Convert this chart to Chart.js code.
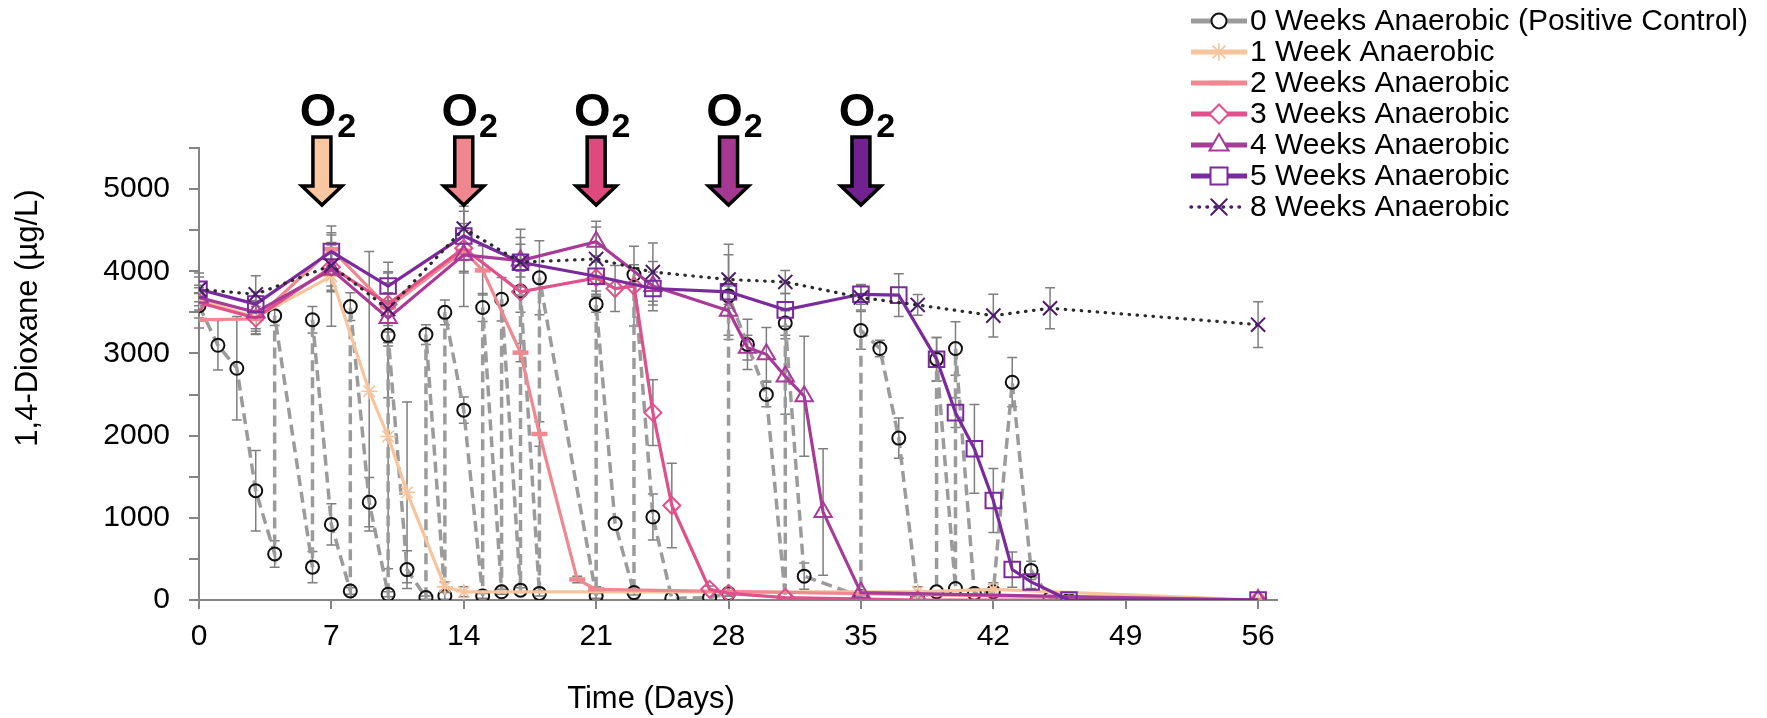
<!DOCTYPE html>
<html>
<head>
<meta charset="utf-8">
<title>1,4-Dioxane</title>
<script src="https://cdn.jsdelivr.net/npm/chart.js"></script>
<style>
    body { margin: 0; background: #fff; }
    #wrap { width: 1767px; height: 718px; }
</style>
</head>
<body>
<div id="wrap"><canvas id="dioxaneChart" width="1767" height="718"></canvas></div>
<script>
// ---- data (days, µg/L, ± error) ----
const xTicks = [0, 7, 14, 21, 28, 35, 42, 49, 56];
const o2Days = [6.5, 14, 21, 28, 35];

// positive control is re-spiked, so some days appear twice (before / after spike)
const pcDays = [0, 1, 2, 3, 4, 4, 6, 6, 7, 8, 8, 9, 10, 10, 11, 12, 12, 13, 13, 14, 15, 15, 16, 16, 17, 17, 18, 18, 21, 21, 22, 23, 23, 24, 25, 27, 28, 28, 29, 30, 31, 31, 32, 35, 35, 36, 37, 38, 39, 39, 40, 40, 41, 42, 43, 44, 45, 46];
const pcVals = [3580, 3100, 2820, 1330, 560, 3460, 400, 3410, 920, 110, 3570, 1190, 70, 3220, 370, 30, 3230, 50, 3500, 2310, 50, 3560, 100, 3660, 120, 3760, 80, 3920, 50, 3600, 930, 90, 3960, 1010, 20, 30, 80, 3700, 3110, 2500, 30, 3370, 290, 40, 3280, 3060, 1970, 30, 100, 2930, 140, 3060, 80, 100, 2650, 360, 20, 0];
const pcErr = [150, 300, 630, 490, 160, 120, 190, 160, 250, 40, 170, 300, 30, 760, 230, 20, 120, 40, 150, 160, 30, 170, 30, 265, 30, 0, 30, 450, 30, 100, 0, 30, 120, 280, 0, 0, 30, 150, 305, 150, 0, 150, 160, 0, 230, 100, 245, 0, 0, 265, 0, 325, 0, 0, 300, 110, 0, 0];

const w1Days = [0, 3, 7, 9, 10, 11, 13, 14, 38, 42, 56];
const w1Vals = [3650, 3440, 3940, 2540, 1990, 1310, 160, 100, 100, 130, 0];
const w1Err = [150, 200, 610, 1700, 1610, 1100, 60, 60, 60, 80, 0];

const w2Days = [0, 3, 7, 10, 14, 15, 17, 18, 20, 21, 56];
const w2Vals = [3410, 3420, 4270, 3560, 4250, 4010, 3010, 2020, 250, 130, 0];
const w2Err = [100, 150, 200, 300, 250, 300, 110, 150, 40, 30, 0];

const w3Days = [0, 3, 7, 10, 14, 17, 21, 22, 23, 24, 25, 27, 28, 31, 38, 56];
const w3Vals = [3620, 3430, 4050, 3600, 4280, 3750, 3920, 3790, 3820, 2280, 1150, 130, 80, 30, 0, 0];
const w3Err = [120, 200, 300, 510, 300, 250, 200, 280, 485, 400, 515, 40, 30, 0, 0, 0];

const w4Days = [0, 3, 7, 10, 14, 17, 21, 24, 28, 29, 30, 31, 32, 33, 35, 56];
const w4Vals = [3680, 3500, 4020, 3430, 4200, 4130, 4360, 3820, 3520, 3070, 2990, 2720, 2480, 1070, 90, 0];
const w4Err = [150, 200, 250, 300, 630, 200, 250, 300, 300, 150, 325, 460, 730, 770, 30, 0];

const w5Days = [0, 3, 7, 10, 14, 17, 21, 24, 28, 31, 35, 37, 39, 40, 41, 42, 43, 44, 46, 56];
const w5Vals = [3780, 3600, 4240, 3820, 4430, 4110, 3940, 3790, 3750, 3530, 3720, 3710, 2930, 2280, 1840, 1210, 370, 220, 0, 0];
const w5Err = [150, 150, 200, 175, 300, 300, 250, 200, 580, 200, 120, 260, 265, 180, 540, 390, 215, 80, 0, 0];

const w8Days = [0, 3, 7, 10, 14, 17, 21, 24, 28, 31, 35, 38, 42, 45, 56];
const w8Vals = [3780, 3720, 4070, 3540, 4520, 4110, 4150, 3990, 3900, 3870, 3680, 3590, 3460, 3550, 3350];
const w8Err = [200, 225, 250, 200, 270, 400, 390, 355, 300, 140, 150, 126, 260, 248, 279];

const labels = [
    '0 Weeks Anaerobic (Positive Control)',
    '1 Week Anaerobic',
    '2 Weeks Anaerobic',
    '3 Weeks Anaerobic',
    '4 Weeks Anaerobic',
    '5 Weeks Anaerobic',
    '8 Weeks Anaerobic'
];

const arrowColors = ['#F9C8A2', '#F0878F', '#DE4A7D', '#A53890', '#722190'];
const FONT = '"Liberation Sans", Arial, sans-serif';

function pts(days, vals) {
    return days.map((d, i) => ({ x: d, y: vals[i] }));
}

function series(label, days, vals, err, color, marker, extra) {
    return Object.assign({
        label: label,
        data: pts(days, vals),
        err: err,
        borderColor: color,
        borderWidth: 3.2,
        pointStyle: marker.style,
        pointRadius: marker.r,
        pointBorderWidth: marker.w,
        pointBorderColor: marker.color || color,
        pointBackgroundColor: 'rgba(0,0,0,0)',
        tension: 0,
        fill: false
    }, extra || {});
}

const datasets = [
    series(labels[0], pcDays, pcVals, pcErr, '#9b9b9b', { style: 'circle', r: 6.5, w: 2, color: '#111' }, { borderDash: [11, 6], borderWidth: 3.5, order: 7 }),
    series(labels[1], w1Days, w1Vals, w1Err, '#F8C49C', { style: 'star', r: 8, w: 1.6 }, { order: 6 }),
    series(labels[2], w2Days, w2Vals, w2Err, '#EF8890', { style: 'line', r: 8, w: 4.5 }, { order: 5 }),
    series(labels[3], w3Days, w3Vals, w3Err, '#E0508A', { style: 'rectRot', r: 8.5, w: 2 }, { order: 4 }),
    series(labels[4], w4Days, w4Vals, w4Err, '#A83A98', { style: 'triangle', r: 10, w: 2 }, { order: 3 }),
    series(labels[5], w5Days, w5Vals, w5Err, '#7A2A9C', { style: 'rect', r: 11, w: 2 }, { order: 2 }),
    series(labels[6], w8Days, w8Vals, w8Err, '#2a2a2a', { style: 'crossRot', r: 10, w: 2, color: '#4B1C6B' }, { borderDash: [0.5, 7.5], borderCapStyle: 'round', borderWidth: 3.2, order: 1 })
];

// error bars, drawn under the lines
const errorBars = {
    id: 'errorBars',
    beforeDatasetsDraw(chart) {
        const ctx = chart.ctx;
        const xs = chart.scales.x, ys = chart.scales.y;
        ctx.save();
        ctx.strokeStyle = '#7f7f7f';
        ctx.lineWidth = 1.5;
        chart.data.datasets.forEach(ds => {
            ds.data.forEach((p, i) => {
                const e = ds.err[i];
                if (!e) return;
                const x = xs.getPixelForValue(p.x);
                const top = ys.getPixelForValue(p.y + e);
                const bot = ys.getPixelForValue(Math.max(p.y - e, 0));
                ctx.beginPath();
                ctx.moveTo(x, top); ctx.lineTo(x, bot);
                ctx.moveTo(x - 5, top); ctx.lineTo(x + 5, top);
                if (p.y - e > 0) { ctx.moveTo(x - 5, bot); ctx.lineTo(x + 5, bot); }
                ctx.stroke();
            });
        });
        ctx.restore();
    }
};

// O2 arrows, axis titles and legend
const extras = {
    id: 'extras',
    afterDraw(chart) {
        const ctx = chart.ctx;
        const xs = chart.scales.x;
        ctx.save();

        // arrows
        o2Days.forEach((d, i) => {
            const cx = xs.getPixelForValue(d);
            ctx.beginPath();
            ctx.moveTo(cx - 9, 137);
            ctx.lineTo(cx + 9, 137);
            ctx.lineTo(cx + 9, 186);
            ctx.lineTo(cx + 20, 186);
            ctx.lineTo(cx, 205);
            ctx.lineTo(cx - 20, 186);
            ctx.lineTo(cx - 9, 186);
            ctx.closePath();
            ctx.fillStyle = arrowColors[i];
            ctx.fill();
            ctx.lineWidth = 3.5;
            ctx.lineJoin = 'miter';
            ctx.strokeStyle = '#000';
            ctx.stroke();

            ctx.fillStyle = '#000';
            ctx.textBaseline = 'alphabetic';
            ctx.font = 'bold 47px ' + FONT;
            ctx.textAlign = 'center';
            ctx.fillText('O', cx - 4, 126);
            const ow = ctx.measureText('O').width;
            ctx.font = 'bold 34px ' + FONT;
            ctx.textAlign = 'left';
            ctx.fillText('2', cx - 4 + ow / 2 + 1, 137);
        });

        // axis titles
        ctx.fillStyle = '#000';
        ctx.textAlign = 'center';
        ctx.textBaseline = 'middle';
        ctx.font = '31px ' + FONT;
        ctx.fillText('Time (Days)', 651, 699);
        ctx.save();
        ctx.translate(28, 318);
        ctx.rotate(-Math.PI / 2);
        ctx.font = '31px ' + FONT;
        ctx.fillText('1,4-Dioxane (µg/L)', 0, 0);
        ctx.restore();

        // legend
        const drawPoint = Chart.helpers && Chart.helpers.drawPoint;
        chart.data.datasets.forEach((ds, i) => {
            const y = 21 + i * 31;
            ctx.save();
            ctx.beginPath();
            ctx.strokeStyle = i === 6 ? '#4B1C6B' : ds.borderColor;
            ctx.lineWidth = i === 6 ? 3.5 : 5;
            ctx.lineCap = i === 6 ? 'round' : 'butt';
            ctx.setLineDash(i === 6 ? [0.5, 7.5] : []);
            ctx.moveTo(1191, y);
            ctx.lineTo(1247, y);
            ctx.stroke();
            ctx.setLineDash([]);
            if (drawPoint) {
                ctx.fillStyle = '#fff';
                ctx.strokeStyle = ds.pointBorderColor;
                ctx.lineWidth = ds.pointBorderWidth;
                drawPoint(ctx, {
                    pointStyle: ds.pointStyle,
                    radius: ds.pointStyle === 'line' ? 9 : ds.pointRadius + 1,
                    borderWidth: ds.pointBorderWidth,
                    rotation: 0
                }, 1219, y);
            }
            ctx.restore();
            ctx.fillStyle = '#000';
            ctx.font = '30px ' + FONT;
            ctx.textAlign = 'left';
            ctx.textBaseline = 'middle';
            ctx.fillText(ds.label, 1250, y + 1);
        });
        ctx.restore();
    }
};

window.addEventListener('DOMContentLoaded', () => {
    const ctx = document.getElementById('dioxaneChart').getContext('2d');

    new Chart(ctx, {
        type: 'line',
        data: { datasets: datasets },
        options: {
            responsive: false,
            animation: false,
            devicePixelRatio: 1,
            layout: { padding: { top: 148, right: 490, left: 0, bottom: 0 } },
            plugins: {
                legend: { display: false },
                tooltip: { enabled: false }
            },
            scales: {
                x: {
                    type: 'linear',
                    min: 0,
                    max: 57,
                    afterBuildTicks: scale => {
                        scale.ticks = xTicks.map(v => ({ value: v }));
                    },
                    afterFit: scale => { scale.height = 118; },
                    ticks: {
                        color: '#000',
                        font: { family: FONT, size: 30 },
                        padding: 10,
                        maxRotation: 0,
                        autoSkip: false
                    },
                    grid: { drawOnChartArea: false, drawTicks: true, tickLength: 9, color: '#858585', lineWidth: 2 },
                    border: { color: '#858585', width: 2 }
                },
                y: {
                    min: 0,
                    max: 5500,
                    afterFit: scale => { scale.width = 199; },
                    ticks: {
                        stepSize: 500,
                        color: '#000',
                        font: { family: FONT, size: 30 },
                        padding: 19,
                        callback: v => (v % 1000 === 0 ? v : '')
                    },
                    grid: { drawOnChartArea: false, drawTicks: true, tickLength: 10, color: '#858585', lineWidth: 2 },
                    border: { color: '#858585', width: 2 }
                }
            }
        },
        plugins: [errorBars, extras]
    });
});
</script>
</body>
</html>
